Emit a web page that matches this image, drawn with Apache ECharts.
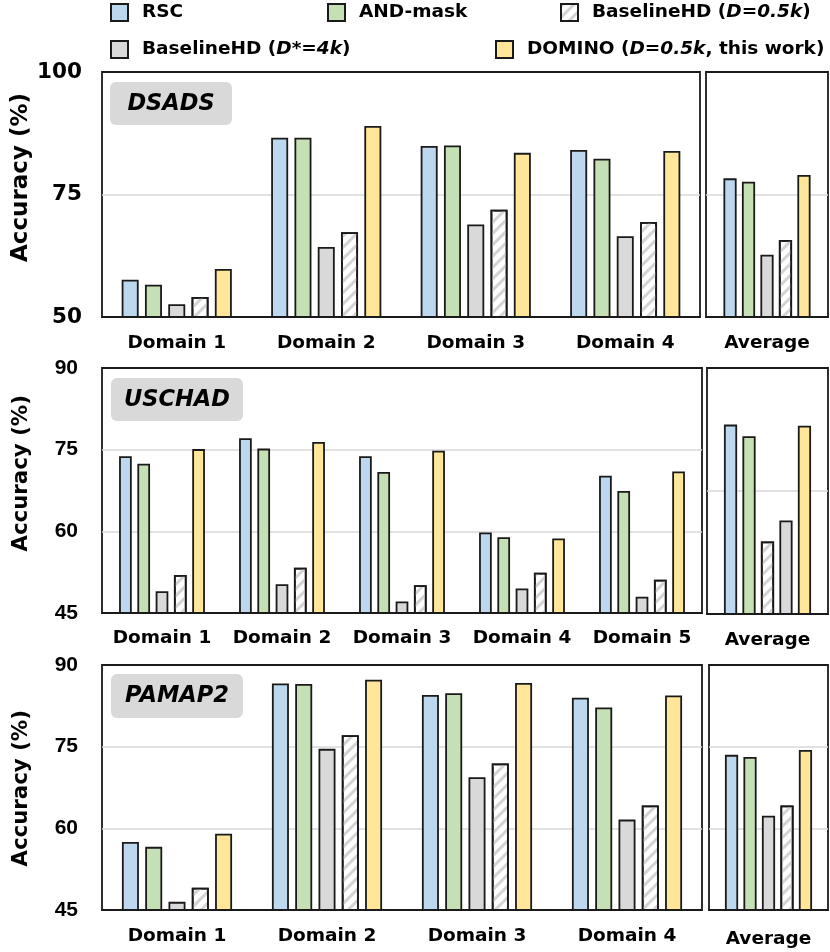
<!DOCTYPE html>
<html>
<head>
<meta charset="utf-8">
<script src="https://cdn.jsdelivr.net/npm/echarts@6/dist/echarts.min.js"></script>
<style>
html,body{margin:0;padding:0;background:#fff;}
#chart{width:830px;height:952px;}
</style>
</head>
<body>
<div id="chart"></div>
<script>
// ---------- data ----------
const seriesNames = ['RSC', 'AND-mask', 'BaselineHD (D*=4k)', 'BaselineHD (D=0.5k)', 'DOMINO (D=0.5k, this work)'];

const dsadsCats = ['Domain 1', 'Domain 2', 'Domain 3', 'Domain 4'];
const dsadsRSC = [57.6, 86.6, 84.9, 84.1];
const dsadsAND = [56.6, 86.6, 85.0, 82.3];
const dsadsBase4k = [52.6, 64.3, 68.9, 66.5];
const dsadsBase05k = [54.1, 67.3, 71.9, 69.4];
const dsadsDOMINO = [59.8, 89.0, 83.5, 83.9];
// average panel: RSC, AND-mask, BaselineHD 4k, BaselineHD 0.5k, DOMINO
const dsadsAvg = [78.3, 77.6, 62.7, 65.7, 79.0];

const uschadCats = ['Domain 1', 'Domain 2', 'Domain 3', 'Domain 4', 'Domain 5'];
const uschadRSC = [73.8, 77.1, 73.8, 59.8, 70.2];
const uschadAND = [72.4, 75.2, 70.9, 58.9, 67.4];
const uschadBase4k = [49.0, 50.3, 47.1, 49.5, 48.0];
const uschadBase05k = [52.0, 53.3, 50.1, 52.4, 51.1];
const uschadDOMINO = [75.1, 76.4, 74.8, 58.7, 71.0];
const uschadAvg = [70.8, 68.9, 55.2, 51.8, 70.6];

const pamapCats = ['Domain 1', 'Domain 2', 'Domain 3', 'Domain 4'];
const pamapRSC = [57.5, 86.6, 84.5, 84.0];
const pamapAND = [56.6, 86.5, 84.8, 82.2];
const pamapBase4k = [46.5, 74.6, 69.4, 61.6];
const pamapBase05k = [49.1, 77.1, 71.9, 64.2];
const pamapDOMINO = [59.0, 87.3, 86.7, 84.4];
const pamapAvg = [73.5, 73.1, 62.3, 64.2, 74.4];

const avgCats = ['Average'];

// ---------- styles ----------
const FONT = 'DejaVu Sans';
const BORDER = '#1a1a1a';
const colors = ['#bdd7ee', '#c5e0b4', '#d9d9d9', '#ffffff', '#ffe699'];
const hatch = {
  symbol: 'rect', symbolSize: 1,
  dashArrayX: [1, 0], dashArrayY: [3, 5],
  rotation: -Math.PI / 4, color: '#d4d4d4'
};
function itemStyle(i) {
  const s = { color: colors[i], borderColor: BORDER, borderWidth: 1.8 };
  if (i === 3) s.decal = hatch;
  return s;
}

// ---------- layout ----------
const grids = [
  { left: 102, top: 72, width: 598, height: 245 },
  { left: 706, top: 72, width: 122, height: 245 },
  { left: 102, top: 368, width: 600, height: 245 },
  { left: 707, top: 368, width: 121, height: 246 },
  { left: 102, top: 665, width: 600, height: 245 },
  { left: 709, top: 665, width: 119, height: 245 }
].map(g => Object.assign({ show: true, borderColor: BORDER, borderWidth: 1.8, backgroundColor: 'transparent' }, g));

function xAxis(idx, cats, margin) {
  return {
    type: 'category', gridIndex: idx, data: cats,
    axisLine: { show: true, lineStyle: { color: BORDER, width: 1.8 } },
    axisTick: { show: false },
    axisLabel: { margin: margin, fontFamily: FONT, fontWeight: 'bold', fontSize: 18.5, color: '#000', interval: 0 }
  };
}
function yAxis(idx, min, max, interval, showLabels, labelFont, labelSize, margin) {
  return {
    type: 'value', gridIndex: idx, min: min, max: max, interval: interval,
    axisLine: { show: false }, axisTick: { show: false },
    splitLine: { show: true, showMinLine: false, showMaxLine: false, lineStyle: { color: '#d9d9d9', width: 1.5 } },
    axisLabel: { show: showLabels, margin: margin, fontFamily: labelFont, fontWeight: 'bold', fontSize: labelSize, color: '#000' }
  };
}

const xAxes = [
  xAxis(0, dsadsCats, 17), xAxis(1, avgCats, 17),
  xAxis(2, uschadCats, 16), xAxis(3, avgCats, 17),
  xAxis(4, pamapCats, 17), xAxis(5, avgCats, 20)
];
const yAxes = [
  yAxis(0, 50, 100, 25, true, FONT, 21.5, 20),
  yAxis(1, 50, 100, 25, false, FONT, 20, 8),
  yAxis(2, 45, 90, 15, true, 'Liberation Sans', 21, 24),
  yAxis(3, 40, 80, 20, false, FONT, 20, 8),
  yAxis(4, 45, 90, 15, true, 'Liberation Sans', 21, 24),
  yAxis(5, 45, 90, 15, false, FONT, 20, 8)
];

const series = [];
function addGroup(gi, arrays, order, barWidth, barGap) {
  order.forEach(function (si, k) {
    series.push({
      type: 'bar', name: seriesNames[si],
      xAxisIndex: gi, yAxisIndex: gi,
      data: arrays[k],
      barWidth: barWidth, barGap: barGap,
      itemStyle: itemStyle(si),
      emphasis: { disabled: true },
      animation: false
    });
  });
}
addGroup(0, [dsadsRSC, dsadsAND, dsadsBase4k, dsadsBase05k, dsadsDOMINO], [0, 1, 2, 3, 4], 17, '37%');
addGroup(1, [[dsadsAvg[0]], [dsadsAvg[1]], [dsadsAvg[2]], [dsadsAvg[3]], [dsadsAvg[4]]], [0, 1, 2, 3, 4], 13.2, '40%');
addGroup(2, [uschadRSC, uschadAND, uschadBase4k, uschadBase05k, uschadDOMINO], [0, 1, 2, 3, 4], 12.7, '44%');
// in the USCHAD average panel the hatched bar is drawn third and the grey bar fourth
addGroup(3, [[uschadAvg[0]], [uschadAvg[1]], [uschadAvg[3]], [uschadAvg[2]], [uschadAvg[4]]], [0, 1, 3, 2, 4], 13.2, '40%');
addGroup(4, [pamapRSC, pamapAND, pamapBase4k, pamapBase05k, pamapDOMINO], [0, 1, 2, 3, 4], 17, '37%');
addGroup(5, [[pamapAvg[0]], [pamapAvg[1]], [pamapAvg[2]], [pamapAvg[3]], [pamapAvg[4]]], [0, 1, 2, 3, 4], 13.2, '40%');

// ---------- legend ----------
const legendText = {
  'RSC': '{b|RSC}',
  'AND-mask': '{b|AND-mask}',
  'BaselineHD (D=0.5k)': '{b|BaselineHD (}{i|D=0.5k}{b|)}',
  'BaselineHD (D*=4k)': '{b|BaselineHD (}{i|D*=4k}{b|)}',
  'DOMINO (D=0.5k, this work)': '{b|DOMINO (}{i|D=0.5k}{b|, this work)}'
};
const legendPos = [
  { name: 'RSC', left: 110, top: 3 },
  { name: 'AND-mask', left: 327, top: 3 },
  { name: 'BaselineHD (D=0.5k)', left: 560, top: 3 },
  { name: 'BaselineHD (D*=4k)', left: 110, top: 40 },
  { name: 'DOMINO (D=0.5k, this work)', left: 495, top: 40 }
];
const legends = legendPos.map(function (p) {
  return {
    data: [p.name], left: p.left, top: p.top, padding: 0,
    icon: 'rect', itemWidth: 17, itemHeight: 17,
    selectedMode: false,
    formatter: function (n) { return legendText[n]; },
    textStyle: {
      padding: [0, 0, 0, 9],
      rich: {
        b: { fontFamily: FONT, fontWeight: 'bold', fontSize: 18.5, color: '#000', lineHeight: 20 },
        i: { fontFamily: FONT, fontWeight: 'bold', fontStyle: 'italic', fontSize: 18.5, color: '#000', lineHeight: 20 }
      }
    }
  };
});

// ---------- decorations ----------
function tagBox(x, y, w, h, label) {
  return [
    { type: 'rect', shape: { x: x, y: y, width: w, height: h, r: 6 }, style: { fill: '#d9d9d9' }, z: 10 },
    { type: 'text', x: x + w / 2, y: y + h / 2 + 0.5, z: 11,
      style: { text: label, align: 'center', verticalAlign: 'middle', fontFamily: FONT, fontWeight: 'bold', fontStyle: 'italic', fontSize: 22.5, fill: '#000' } }
  ];
}
function yTitle(x, y, size) {
  return { type: 'text', x: x, y: y, rotation: Math.PI / 2, z: 11,
    style: { text: 'Accuracy (%)', align: 'center', verticalAlign: 'middle', fontFamily: FONT, fontWeight: 'bold', fontSize: size, fill: '#000' } };
}
const graphics = [].concat(
  tagBox(110, 82, 122, 43, 'DSADS'),
  tagBox(111, 378, 132, 43, 'USCHAD'),
  tagBox(111, 674, 132, 44, 'PAMAP2'),
  [yTitle(21, 177.5, 23), yTitle(21.7, 473.3, 21.3), yTitle(21.7, 788.3, 21.3)]
);

const chart = echarts.init(document.getElementById('chart'), null, { renderer: 'canvas' });
chart.setOption({
  animation: false,
  backgroundColor: '#ffffff',
  legend: legends,
  grid: grids,
  xAxis: xAxes,
  yAxis: yAxes,
  series: series,
  graphic: graphics
});
</script>
</body>
</html>
